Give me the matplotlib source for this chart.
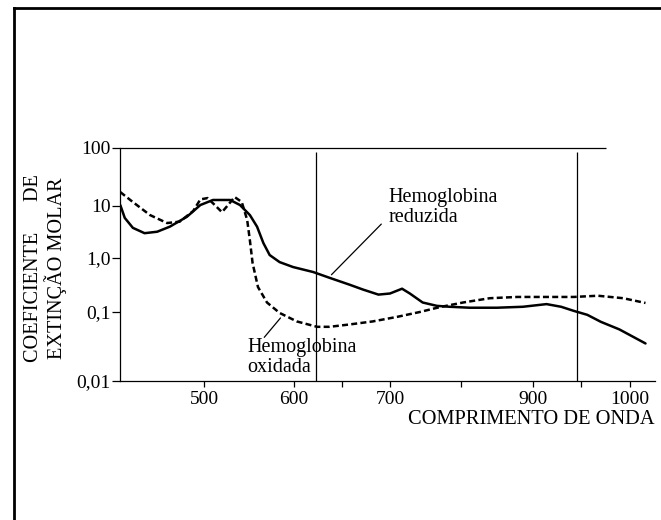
import numpy as np
import matplotlib.pyplot as plt
from matplotlib.lines import Line2D

plt.rcParams['font.family'] = ['Liberation Serif', 'DejaVu Serif']

# hemoglobina reduzida (linha cheia)
wl_red = [407, 412, 421, 434, 448, 462, 481, 496, 510, 529, 540, 551, 559, 566,
          573, 584, 599, 620, 637, 658, 672, 688, 700, 717, 728, 746, 766, 784,
          812, 850, 886, 914, 929, 942, 956, 970, 989, 1016]
val_red = [10.4, 5.9, 3.8, 3.0, 3.2, 4.0, 6.2, 10.4, 12.7, 12.7, 10.4, 6.7, 4.0, 1.94,
           1.14, 0.84, 0.68, 0.55, 0.43, 0.32, 0.26, 0.21, 0.22, 0.27, 0.22, 0.15, 0.13, 0.125,
           0.12, 0.12, 0.125, 0.14, 0.125, 0.105, 0.091, 0.072, 0.056, 0.035]

# hemoglobina oxidada (tracejada)
wl_oxi = [407, 421, 440, 459, 473, 488, 496, 504, 512, 520, 527, 534, 542, 548,
          551, 554, 560, 570, 584, 603, 624, 637, 658, 682, 710, 742, 770, 803,
          840, 878, 913, 942, 967, 993, 1016]
val_oxi = [17.4, 11.7, 6.7, 4.7, 5.0, 8.0, 13.0, 13.7, 10.4, 7.6, 10.5, 14.3, 11.7, 5.4,
           2.2, 0.81, 0.29, 0.15, 0.097, 0.073, 0.061, 0.061, 0.066, 0.073, 0.085, 0.1, 0.123, 0.15,
           0.18, 0.19, 0.19, 0.19, 0.2, 0.18, 0.147]

xticks = [500, 600, 650, 700, 800, 900, 950, 1000]
xticklabels = ['500', '600', '', '700', '', '900', '', '1000']
yticks = [0.01, 0.1, 1, 10, 100]
yticklabels = ['0,01', '0,1', '1,0', '10', '100']

# the printed axes are not evenly spaced, so map them piecewise
x_nm = [300, 400, 500, 600, 700, 800, 900, 1000, 1100, 1200]
x_px = [24, 114, 204, 294, 390, 461, 533, 630, 727, 824]
y_lg = [-3, -2, -1, 0, 1, 2, 3]
y_px = [-69, 0, 69, 123, 175, 233, 291]


def fx(x):
    return np.interp(x, x_nm, x_px)


def ifx(p):
    return np.interp(p, x_px, x_nm)


def fy(y):
    with np.errstate(divide='ignore', invalid='ignore'):
        lg = np.log10(np.clip(y, 1e-6, None))
    return np.interp(lg, y_lg, y_px)


def ify(p):
    return 10 ** np.interp(p, y_px, y_lg)


fig = plt.figure(figsize=(6.61, 5.2), dpi=100)
ax = fig.add_axes([120 / 661, 1 - 381 / 520, 535 / 661, 233 / 520])
ax.set_xscale('function', functions=(fx, ifx))
ax.set_yscale('function', functions=(fy, ify))
ax.set_xlim(406.7, 1025.8)
ax.set_ylim(0.01, 100)

ax.plot(wl_red, val_red, color='black', lw=1.8, solid_capstyle='round')
ax.plot(wl_oxi, val_oxi, color='black', lw=1.8, linestyle=(0, (2.4, 1.3)))

ax.vlines([623, 945], 0.01, 85, color='black', lw=0.9)
ax.hlines(100, 406.7, 975, color='black', lw=0.9, clip_on=False)

ax.annotate('', xy=(637, 0.45), xytext=(693, 4.9),
            arrowprops=dict(arrowstyle='-', lw=0.9, color='black'))
ax.text(698, 9.5, 'Hemoglobina\nreduzida', fontsize=14.5, ha='left', va='center',
        linespacing=1.05)
ax.annotate('', xy=(587, 0.088), xytext=(565, 0.04),
            arrowprops=dict(arrowstyle='-', lw=0.9, color='black'))
ax.text(548, 0.022, 'Hemoglobina\noxidada', fontsize=14.5, ha='left', va='center',
        linespacing=1.05)

ax.set_xticks(xticks)
ax.set_xticklabels(xticklabels)
ax.set_yticks(yticks)
ax.set_yticklabels(yticklabels)
ax.minorticks_off()
ax.tick_params(direction='out', width=0.9, labelsize=14)
ax.tick_params(axis='x', length=4, pad=3)
ax.tick_params(axis='y', length=5.5, pad=1)

for s in ['top', 'right']:
    ax.spines[s].set_visible(False)
for s in ['left', 'bottom']:
    ax.spines[s].set_linewidth(0.9)

fig.text(34 / 661, 1 - 268 / 520, 'COEFICIENTE      DE', rotation=90,
         ha='center', va='center', fontsize=14.6)
fig.text(56 / 661, 1 - 268 / 520, 'EXTINÇÃO MOLAR', rotation=90,
         ha='center', va='center', fontsize=14.6)
fig.text(655 / 661, 1 - 420 / 520, 'COMPRIMENTO DE ONDA', ha='right', va='center',
         fontsize=14.7)

# moldura (so esquerda e topo aparecem)
fig.add_artist(Line2D([14 / 661, 14 / 661], [0, 1 - 8 / 520], color='black', lw=2,
                      transform=fig.transFigure))
fig.add_artist(Line2D([14 / 661, 1], [1 - 8 / 520, 1 - 8 / 520], color='black', lw=2,
                      transform=fig.transFigure))

fig.savefig('out.png', dpi=100)
